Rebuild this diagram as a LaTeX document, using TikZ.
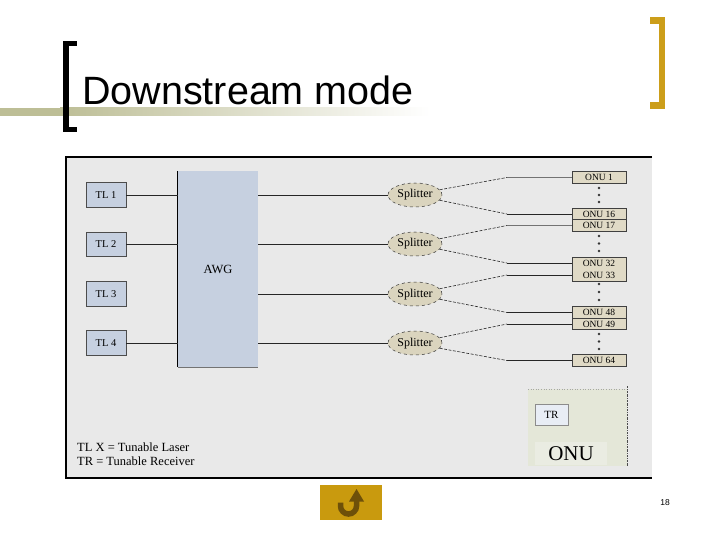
\documentclass[tikz,border=0pt]{standalone}
\usepackage{fontspec}
\setmainfont{Liberation Serif}
\newfontfamily\arialf{Liberation Sans}
\usetikzlibrary{shapes.geometric,fit}
\definecolor{panelgray}{HTML}{E9E9E9}
\definecolor{boxblue}{HTML}{C6D0E0}
\definecolor{splitfill}{HTML}{DAD4BE}
\definecolor{onufill}{HTML}{E0DAC6}
\definecolor{onuarea}{HTML}{E4E7D8}
\definecolor{onulabel}{HTML}{EAECE2}
\definecolor{trfill}{HTML}{E8EDF5}
\definecolor{gold}{HTML}{CC9E1A}
\definecolor{btn}{HTML}{C99A0E}
\definecolor{btnarrow}{HTML}{6E5009}
\definecolor{olive}{HTML}{BDBE96}
\tikzset{
  tlbox/.style={draw=black!70, fill=boxblue, line width=0.6pt, minimum width=40pt, minimum height=24.5pt, inner sep=0pt, font=\fontsize{10.5}{12}\selectfont},
  splitbox/.style={ellipse, draw=black!80, dashed, fill=splitfill, line width=0.5pt, minimum width=54pt, minimum height=24pt, inner sep=0pt, text height=7.5pt, text depth=1.5pt, font=\fontsize{12}{13}\selectfont},
  onubox/.style={draw=black!75, fill=onufill, line width=0.6pt, minimum width=54pt, minimum height=11.5pt, inner sep=0pt, font=\fontsize{9.5}{10}\selectfont},
  onuplain/.style={fill=onufill, minimum width=54pt, minimum height=12pt, inner sep=0pt, font=\fontsize{9.5}{10}\selectfont},
  wire/.style={line width=0.6pt, black!85},
  dwire/.style={line width=0.6pt, black!85, dash pattern=on 3pt off 1.5pt},
  odot/.style={circle, fill=black!80, inner sep=0pt, minimum size=2.6pt}
}
\begin{document}
\begin{tikzpicture}[x=1pt,y=-1pt]
\useasboundingbox (0,0) rectangle (720,540);
% title decoration
\fill[olive] (0,108) rectangle (60,116);
\shade[left color=olive, right color=white] (60,108) rectangle (430,116);
\fill[black] (63,41) rectangle (69,132);
\fill[black] (63,41) rectangle (77,46);
\fill[black] (63,127) rectangle (77,132);
\fill[gold] (659,17) rectangle (665,109);
\fill[gold] (650,17) rectangle (665,24);
\fill[gold] (650,102) rectangle (665,109);
\node[anchor=base west, inner sep=0pt, font=\arialf\fontsize{39.5}{44}\selectfont] (title) at (82,105) {Downstream mode};
% panel
\fill[panelgray] (66,157) rectangle (652,478);
\draw[line width=1.2pt] (652,157) -- (66,157) -- (66,478) -- (652,478);
% TL boxes
\node[tlbox] (tl1) at (106,195) {TL 1};
\node[tlbox] (tl2) at (106,244.5) {TL 2};
\node[tlbox] (tl3) at (106,294) {TL 3};
\node[tlbox] (tl4) at (106,343) {TL 4};
% AWG
\node[fill=boxblue, minimum width=80pt, minimum height=196pt, inner sep=0pt, font=\fontsize{12.5}{14}\selectfont] (awg) at (218,269) {AWG};
\draw[line width=1pt] (awg.north west) -- (awg.south west);
\draw[line width=0.8pt, black!55] (awg.south west) -- (awg.south east);
% TL -> AWG
\draw[wire] (tl1.east) -- (tl1.east -| awg.west);
\draw[wire] (tl2.east) -- (tl2.east -| awg.west);
\draw[wire] (tl4.east) -- (tl4.east -| awg.west);
% splitters
\node[splitbox] (s1) at (415,195) {Splitter};
\node[splitbox] (s2) at (415,244) {Splitter};
\node[splitbox] (s3) at (415,294) {Splitter};
\node[splitbox] (s4) at (415,343) {Splitter};
\draw[wire] (awg.east |- s1.west) -- (s1.west);
\draw[wire] (awg.east |- s2.west) -- (s2.west);
\draw[wire] (awg.east |- s3.west) -- (s3.west);
\draw[wire] (awg.east |- s4.west) -- (s4.west);
% ONUs
\node[onubox] (onu1) at (599,177.5) {ONU 1};
\node[onubox] (onu16) at (599,214) {ONU 16};
\node[onubox] (onu17) at (599,225.5) {ONU 17};
\node[onuplain] (onu32) at (599,263) {ONU 32};
\node[onuplain] (onu33) at (599,275) {ONU 33};
\node[draw=black!75, line width=0.6pt, inner sep=0pt, fit=(onu32)(onu33)] (onu3233) {};
\node[onubox] (onu48) at (599,312.5) {ONU 48};
\node[onubox] (onu49) at (599,324) {ONU 49};
\node[onubox] (onu64) at (599,360.5) {ONU 64};
% connector bends
\coordinate (b1) at (507,177.5);
\coordinate (b16) at (507,214);
\coordinate (b17) at (507,225.5);
\coordinate (b32) at (507,263);
\coordinate (b33) at (507,275);
\coordinate (b48) at (507,312.5);
\coordinate (b49) at (507,324);
\coordinate (b64) at (507,360.5);
\draw[dwire] (s1.12) -- (b1);  \draw[wire, black!55] (b1) -- (onu1.west);
\draw[dwire] (s1.-12) -- (b16); \draw[wire] (b16) -- (onu16.west);
\draw[dwire] (s2.12) -- (b17); \draw[wire, black!55] (b17) -- (onu17.west);
\draw[dwire] (s2.-12) -- (b32); \draw[wire] (b32) -- (onu32.west);
\draw[dwire] (s3.12) -- (b33); \draw[wire] (b33) -- (onu33.west);
\draw[dwire] (s3.-12) -- (b48); \draw[wire] (b48) -- (onu48.west);
\draw[dwire] (s4.12) -- (b49); \draw[wire] (b49) -- (onu49.west);
\draw[dwire] (s4.-12) -- (b64); \draw[wire] (b64) -- (onu64.west);
% dots
\foreach \y in {188,195,202, 236,243.5,251, 284,292,300, 334,341.5,349}
  \node[odot] at (599,\y) {};
% ONU detail area
\fill[onuarea] (528,389) rectangle (627,466);
\draw[black!35, dotted, line width=0.6pt] (528,389) -- (627,389);
\draw[black!70, dash pattern=on 2pt off 1pt on 0.6pt off 1pt, line width=0.7pt] (627,386) -- (627,467);
\node[draw=black!45, fill=trfill, line width=0.5pt, minimum width=33pt, minimum height=21pt, inner sep=0pt, font=\fontsize{11}{12}\selectfont] (tr) at (551.5,414.5) {TR};
\node[fill=onulabel, minimum width=72pt, minimum height=23pt, inner sep=0pt, font=\fontsize{21}{23}\selectfont] (onulbl) at (571,453.5) {ONU};
% legend
\node[anchor=base west, inner sep=0pt, font=\fontsize{12.5}{14}\selectfont] (leg1) at (77,451) {TL X = Tunable Laser};
\node[anchor=base west, inner sep=0pt, font=\fontsize{12.5}{14}\selectfont] (leg2) at (77,465.5) {TR = Tunable Receiver};
% button
\node[fill=btn, minimum width=62pt, minimum height=35pt, inner sep=0pt] (btn) at (351,502.5) {};
\draw[btnarrow, line width=5.5pt] (340.5,502.5) -- (340.5,506) arc[start angle=180, end angle=0, radius=8] -- (356.5,500);
\fill[btnarrow] (349,501.5) -- (364,501.5) -- (356.5,489) -- cycle;
% page number
\node[anchor=base, inner sep=0pt, font=\arialf\fontsize{8.5}{10}\selectfont] (pg) at (665,505) {18};
\end{tikzpicture}
\end{document}
